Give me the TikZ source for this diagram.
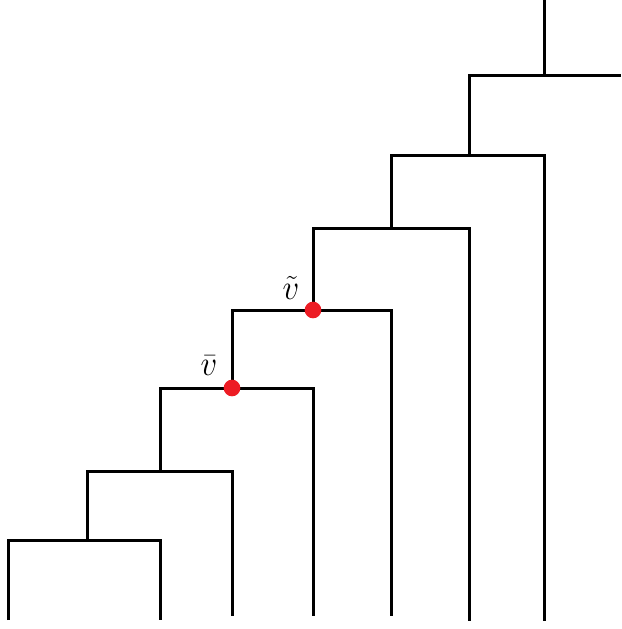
\documentclass[tikz,border=0pt]{standalone}
\usetikzlibrary{calc}
\tikzset{
	branch/.style={draw=black, line width=0.09cm},
	marked/.style={circle, fill=red!85!black, inner sep=0pt, minimum size=0.5cm},
	vlabel/.style={inner sep=0pt, font=\huge}
}
\definecolor{dotred}{RGB}{237,28,36}
\newcommand{\biglabel}[1]{\scalebox{1.35}[1.45]{$#1$}}

\begin{document}
\begin{tikzpicture}[x=0.03cm, y=-0.03cm]

\useasboundingbox (0, 0) rectangle (621, 629);

% leaves
\coordinate (l1) at (8, 620);
\coordinate (l2) at (160, 620);
\coordinate (l3) at (232, 616);
\coordinate (l4) at (313, 616);
\coordinate (l5) at (391, 616);
\coordinate (l6) at (469, 621);
\coordinate (l7) at (544, 621);
\coordinate (r) at (621, 76);
\coordinate (top) at (544, 0);

% inner vertices
\coordinate (n1) at (87, 540);
\coordinate (n2) at (160, 471);
\coordinate (n3) at (232, 388);
\coordinate (n4) at (313, 310);
\coordinate (n5) at (391, 229);
\coordinate (n6) at (469, 156);
\coordinate (n7) at (544, 76);

\draw[branch] (l1) |- (n1) -| (l2);
\draw[branch] (n1) |- (n2) -| (l3);
\draw[branch] (n2) |- (n3) -| (l4);
\draw[branch] (n3) |- (n4) -| (l5);
\draw[branch] (n4) |- (n5) -| (l6);
\draw[branch] (n5) |- (n6) -| (l7);
\draw[branch] (n6) |- (n7) -- (r);
\draw[branch] (n7) -- (top);

\node[marked, fill=dotred] (vbar) at (n3) {};
\node[marked, fill=dotred] (vtilde) at (n4) {};

\node[vlabel] (lbar) at (209, 366) {\biglabel{\bar{v}}};
\node[vlabel] (ltilde) at (291, 288) {\biglabel{\tilde{v}}};
\end{tikzpicture}
\end{document}
